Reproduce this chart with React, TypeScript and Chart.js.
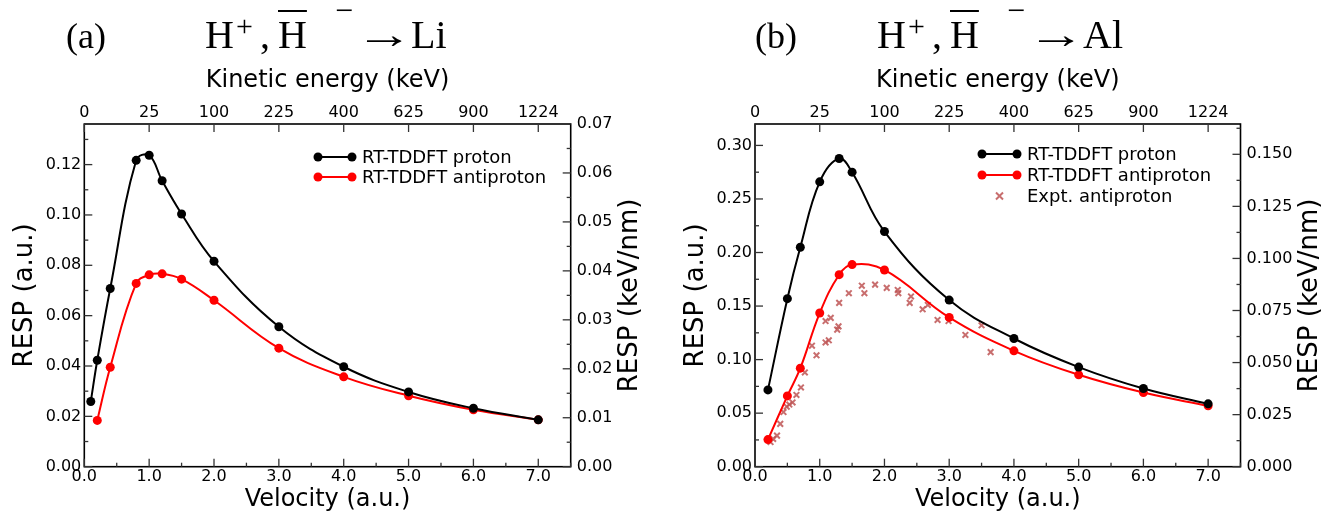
import React, { useEffect, useRef } from 'react';
import { Chart, registerables } from 'chart.js';
Chart.register(...registerables);

// ---------------- data ----------------
const velocityTicks = [0, 1, 2, 3, 4, 5, 6, 7];
const velocityLabels = ['0.0', '1.0', '2.0', '3.0', '4.0', '5.0', '6.0', '7.0'];
const energyLabels = ['0', '25', '100', '225', '400', '625', '900', '1224'];

// (a) Li
const liProtonV = [0.1, 0.2, 0.4, 0.8, 1.0, 1.2, 1.5, 2.0, 3.0, 4.0, 5.0, 6.0, 7.0];
const liProtonS = [0.0259, 0.0423, 0.0708, 0.1217, 0.1237, 0.1136, 0.1004, 0.0816, 0.0556, 0.0397, 0.0297, 0.0232, 0.0186];
const liAntiV = [0.2, 0.4, 0.8, 1.0, 1.2, 1.5, 2.0, 3.0, 4.0, 5.0, 6.0, 7.0];
const liAntiS = [0.0184, 0.0395, 0.0728, 0.0762, 0.0766, 0.0745, 0.0661, 0.0471, 0.0357, 0.0282, 0.0226, 0.0186];
const liLeftTicks = [0, 0.02, 0.04, 0.06, 0.08, 0.10, 0.12];
const liRightTicks = [0, 0.01, 0.02, 0.03, 0.04, 0.05, 0.06, 0.07];

// (b) Al
const alProtonV = [0.2, 0.5, 0.7, 1.0, 1.3, 1.5, 2.0, 3.0, 4.0, 5.0, 6.0, 7.0];
const alProtonS = [0.0717, 0.1569, 0.2049, 0.2660, 0.2878, 0.2750, 0.2196, 0.1556, 0.1197, 0.0930, 0.0730, 0.0587];
const alAntiV = [0.2, 0.5, 0.7, 1.0, 1.3, 1.5, 2.0, 3.0, 4.0, 5.0, 6.0, 7.0];
const alAntiS = [0.0253, 0.0661, 0.0920, 0.1435, 0.1793, 0.1887, 0.1837, 0.1394, 0.1082, 0.0858, 0.0692, 0.0568];
const alExptV = [0.24, 0.28, 0.34, 0.39, 0.44, 0.49, 0.53, 0.58, 0.64, 0.71, 0.77, 0.88, 0.95, 1.09, 1.17, 1.09, 1.14, 1.27, 1.29, 1.30, 1.45, 1.65, 1.69, 1.855, 2.035, 2.205, 2.214, 2.41, 2.39, 2.59, 2.67, 2.82, 2.99, 3.25, 3.50, 3.64];
const alExptS = [0.023, 0.026, 0.029, 0.040, 0.051, 0.056, 0.058, 0.060, 0.067, 0.074, 0.088, 0.113, 0.104, 0.136, 0.139, 0.116, 0.118, 0.128, 0.131, 0.153, 0.162, 0.169, 0.162, 0.170, 0.167, 0.165, 0.162, 0.159, 0.153, 0.147, 0.151, 0.137, 0.136, 0.123, 0.132, 0.107];
const alLeftTicks = [0, 0.05, 0.10, 0.15, 0.20, 0.25, 0.30];
const alRightTicks = [0, 0.025, 0.05, 0.075, 0.10, 0.125, 0.15];

const AU_TO_KEV_NM = 0.51422;

const seriesLabels = ['RT-TDDFT proton', 'RT-TDDFT antiproton', 'Expt. antiproton'];
const rightAxisTitle = 'RESP (keV/nm)';

// ---------------- helpers ----------------
const pts = (xs: number[], ys: number[]) => xs.map((x, i) => ({ x, y: ys[i] }));
const mids = (a: number[]) => {
  const step = a[1] - a[0];
  return a.map((v) => v + step / 2);
};

const TICK_FONT = { family: 'DejaVu Sans', size: 16 };
const TITLE_FONT = { family: 'DejaVu Sans', size: 24 };
const VTITLE_FONT = { family: 'DejaVu Sans', size: 26 };
const EXPT_COLOR = 'rgba(190,85,85,0.85)';

const frameTicksPlugin = {
  id: 'frameTicks',
  afterDraw(chart: any, _args: any, opts: any) {
    const { ctx, chartArea: ca, scales } = chart;
    ctx.save();
    ctx.strokeStyle = '#000';
    ctx.lineWidth = 1.6;
    ctx.lineCap = 'butt';
    ctx.strokeRect(ca.left, ca.top, ca.right - ca.left, ca.bottom - ca.top);
    ctx.lineWidth = 1.3;
    ctx.strokeStyle = '#333';
    for (const spec of opts.specs || []) {
      const scale = scales[spec.id];
      const draw = (vals: number[], len: number) => {
        for (const v of vals) {
          if (v < scale.min - 1e-9 || v > scale.max + 1e-9) continue;
          const p = scale.getPixelForValue(v);
          ctx.beginPath();
          if (scale.position === 'bottom') { ctx.moveTo(p, ca.bottom); ctx.lineTo(p, ca.bottom - len); }
          else if (scale.position === 'top') { ctx.moveTo(p, ca.top); ctx.lineTo(p, ca.top + len); }
          else if (scale.position === 'left') { ctx.moveTo(ca.left, p); ctx.lineTo(ca.left + len, p); }
          else { ctx.moveTo(ca.right, p); ctx.lineTo(ca.right - len, p); }
          ctx.stroke();
        }
      };
      draw(spec.major, 8);
      draw(spec.minor || [], 4);
    }
    if (opts.rightTitle) {
      const t = opts.rightTitle;
      ctx.fillStyle = '#000';
      ctx.font = `${VTITLE_FONT.size}px "${VTITLE_FONT.family}"`;
      ctx.textAlign = 'center';
      ctx.textBaseline = 'middle';
      ctx.translate(t.x, (ca.top + ca.bottom) / 2);
      ctx.rotate(-Math.PI / 2);
      ctx.fillText(t.text, 0, 0);
    }
    ctx.restore();
  },
};

const innerLegendPlugin = {
  id: 'innerLegend',
  afterDraw(chart: any, _args: any, opts: any) {
    const { ctx } = chart;
    ctx.save();
    ctx.font = '18px "DejaVu Sans"';
    ctx.textBaseline = 'middle';
    ctx.fillStyle = '#000';
    chart.data.datasets.forEach((ds: any, i: number) => {
      const y = opts.rows[i];
      if (y === undefined) return;
      if (ds.showLine !== false) {
        ctx.strokeStyle = ds.borderColor;
        ctx.lineWidth = 2;
        ctx.beginPath();
        ctx.moveTo(opts.x1, y);
        ctx.lineTo(opts.x2, y);
        ctx.stroke();
        ctx.fillStyle = ds.pointBackgroundColor;
        for (const x of [opts.x1, opts.x2]) {
          ctx.beginPath();
          ctx.arc(x, y, 4.5, 0, Math.PI * 2);
          ctx.fill();
        }
      } else {
        ctx.strokeStyle = ds.borderColor;
        ctx.lineWidth = 2;
        const cx = (opts.x1 + opts.x2) / 2, r = 3.5;
        ctx.beginPath();
        ctx.moveTo(cx - r, y - r); ctx.lineTo(cx + r, y + r);
        ctx.moveTo(cx - r, y + r); ctx.lineTo(cx + r, y - r);
        ctx.stroke();
      }
      ctx.fillStyle = '#000';
      ctx.fillText(ds.label, opts.textX, y + 1);
    });
    ctx.restore();
  },
};

function lineDs(label: string, data: any[], color: string) {
  return {
    type: 'line',
    label,
    data,
    borderColor: color,
    backgroundColor: color,
    pointBackgroundColor: color,
    pointBorderColor: color,
    pointRadius: 4.5,
    pointBorderWidth: 0,
    borderWidth: 2,
    tension: 0.4,
    fill: false,
    showLine: true,
  };
}

function makeConfig(p: any) {
  const fixedTicks = (vals: number[]) => (s: any) => { s.ticks = vals.map((v) => ({ value: v })); };
  return {
    type: 'line',
    data: { datasets: p.datasets },
    plugins: [frameTicksPlugin, innerLegendPlugin],
    options: {
      animation: false,
      responsive: false,
      devicePixelRatio: 1,
      layout: { padding: 0 },
      plugins: {
        legend: { display: false },
        tooltip: { enabled: false },
        frameTicks: {
          specs: [
            { id: 'x', major: velocityTicks, minor: mids(velocityTicks) },
            { id: 'x2', major: velocityTicks },
            { id: 'y', major: p.leftTicks, minor: mids(p.leftTicks) },
            { id: 'y2', major: p.rightTicks, minor: mids(p.rightTicks) },
          ],
          rightTitle: { text: rightAxisTitle, x: p.rightTitleX },
        },
        innerLegend: p.legend,
      },
      scales: {
        x: {
          type: 'linear', position: 'bottom', min: 0, max: 7.5,
          afterBuildTicks: fixedTicks(velocityTicks),
          afterFit: (s: any) => { s.height = 517 - p.area.bottom; },
          grid: { display: false, drawTicks: false },
          border: { display: false },
          ticks: { autoSkip: false, maxRotation: 0, padding: 1, color: '#000', font: TICK_FONT,
            callback: (_v: any, i: number) => velocityLabels[i] },
          title: { display: true, text: 'Velocity (a.u.)', color: '#000', font: TITLE_FONT, padding: { top: 0, bottom: 3 } },
        },
        x2: {
          type: 'linear', position: 'top', min: 0, max: 7.5,
          afterBuildTicks: fixedTicks(velocityTicks),
          afterFit: (s: any) => { s.height = p.area.top; },
          grid: { display: false, drawTicks: false },
          border: { display: false },
          ticks: { autoSkip: false, maxRotation: 0, padding: 2, color: '#000', font: TICK_FONT,
            callback: (_v: any, i: number) => energyLabels[i] },
          title: { display: true, text: 'Kinetic energy (keV)', color: '#000', font: TITLE_FONT, padding: { top: 66, bottom: 0 } },
        },
        y: {
          type: 'linear', position: 'left', min: 0, max: p.leftMax,
          afterBuildTicks: fixedTicks(p.leftTicks),
          afterFit: (s: any) => { s.width = p.area.left; },
          grid: { display: false, drawTicks: false },
          border: { display: false },
          ticks: { autoSkip: false, padding: 3, color: '#000', font: TICK_FONT,
            callback: (v: any) => Number(v).toFixed(p.leftDigits) },
          title: { display: true, text: 'RESP (a.u.)', color: '#000', font: VTITLE_FONT, padding: { top: p.leftTitlePad, bottom: 0 } },
        },
        y2: {
          type: 'linear', position: 'right', min: 0, max: p.leftMax * AU_TO_KEV_NM,
          afterBuildTicks: fixedTicks(p.rightTicks),
          afterFit: (s: any) => { s.width = 664 - p.area.right; },
          grid: { display: false, drawTicks: false },
          border: { display: false },
          ticks: { autoSkip: false, padding: 6, color: '#000', font: TICK_FONT,
            callback: (v: any) => Number(v).toFixed(p.rightDigits) },
          title: { display: false },
        },
      },
    },
  };
}

function Panel({ config }: { config: any }) {
  const ref = useRef<HTMLCanvasElement>(null);
  useEffect(() => {
    const chart = new Chart(ref.current as HTMLCanvasElement, config);
    return () => chart.destroy();
  }, [config]);
  return <canvas ref={ref} width={664} height={517} style={{ display: 'block', width: 664, height: 517 }} />;
}

const liConfig = makeConfig({
  datasets: [
    lineDs(seriesLabels[0], pts(liProtonV, liProtonS), '#000000'),
    lineDs(seriesLabels[1], pts(liAntiV, liAntiS), '#ff0000'),
  ],
  area: { left: 84.3, right: 570.7, top: 124, bottom: 466.7 },
  leftMax: 0.07 / AU_TO_KEV_NM,
  leftTicks: liLeftTicks,
  rightTicks: liRightTicks,
  leftDigits: 2,
  rightDigits: 2,
  leftTitlePad: 10,
  rightTitleX: 630,
  legend: { x1: 318, x2: 352, textX: 362, rows: [157, 177] },
});

const alConfig = makeConfig({
  datasets: [
    lineDs(seriesLabels[0], pts(alProtonV, alProtonS), '#000000'),
    lineDs(seriesLabels[1], pts(alAntiV, alAntiS), '#ff0000'),
    {
      type: 'scatter',
      label: seriesLabels[2],
      data: pts(alExptV, alExptS),
      showLine: false,
      pointStyle: 'crossRot',
      pointRadius: 4,
      pointBorderWidth: 2,
      borderColor: EXPT_COLOR,
      backgroundColor: EXPT_COLOR,
      pointBackgroundColor: EXPT_COLOR,
      pointBorderColor: EXPT_COLOR,
    },
  ],
  area: { left: 91, right: 576.5, top: 124, bottom: 466.7 },
  leftMax: 0.32,
  leftTicks: alLeftTicks,
  rightTicks: alRightTicks,
  leftDigits: 2,
  rightDigits: 3,
  leftTitlePad: 17,
  rightTitleX: 646,
  legend: { x1: 318, x2: 353, textX: 363, rows: [154, 175, 196] },
});

// ---------------- panel titles (serif, TeX-like) ----------------
const SERIF = '"Liberation Serif", "Times New Roman", serif';
const BASELINE = 48;

function Piece({ x, size, base, children, extra }: any) {
  const top = base - 0.8375 * size;
  return (
    <div style={{ position: 'absolute', left: x, top, fontFamily: SERIF, fontSize: size,
      lineHeight: `${size}px`, whiteSpace: 'nowrap', color: '#000', ...(extra || {}) }}>{children}</div>
  );
}

function Formula({ x0, target }: { x0: number; target: string }) {
  return (
    <>
      <Piece x={x0} size={40} base={BASELINE}>H</Piece>
      <Piece x={x0 + 31} size={30} base={BASELINE - 12}>+</Piece>
      <Piece x={x0 + 55} size={40} base={BASELINE}>,</Piece>
      <Piece x={x0 + 73} size={40} base={BASELINE}
        extra={{ textDecoration: 'overline', textDecorationThickness: '1.5px' }}>H</Piece>
      <Piece x={x0 + 130} size={32} base={21}>−</Piece>
      <Piece x={x0 + 150} size={40} base={BASELINE}
        extra={{ transform: 'scaleX(1.45)', transformOrigin: 'left center' }}>→</Piece>
      <Piece x={x0 + 206} size={40} base={BASELINE}>{target}</Piece>
    </>
  );
}

export default function App() {
  return (
    <div style={{ position: 'fixed', left: 0, top: 0, width: 1328, height: 517, background: '#fff' }}>
      <div style={{ position: 'absolute', left: 0, top: 0 }}><Panel config={liConfig} /></div>
      <div style={{ position: 'absolute', left: 664, top: 0 }}><Panel config={alConfig} /></div>
      <Piece x={66} size={36} base={BASELINE}>(a)</Piece>
      <Formula x0={205} target="Li" />
      <Piece x={755} size={36} base={BASELINE}>(b)</Piece>
      <Formula x0={877} target="Al" />
    </div>
  );
}
